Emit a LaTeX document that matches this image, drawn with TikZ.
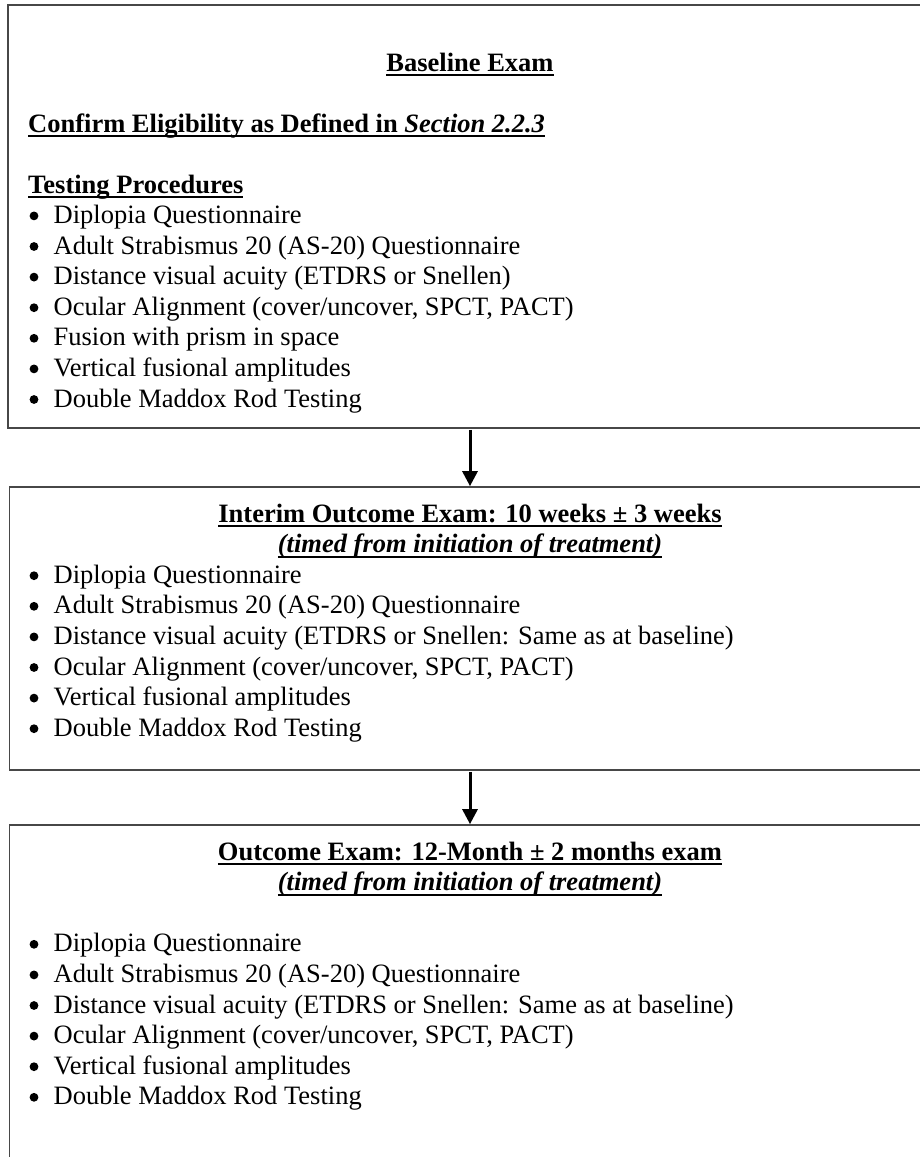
\documentclass[tikz,border=0pt]{standalone}
\usepackage{fontspec}
\setmainfont{Liberation Serif}
\usetikzlibrary{arrows.meta}
\newsavebox\ulbox
\newcommand\ulx[1]{\sbox\ulbox{#1}\rlap{\rule[-0.2em]{\wd\ulbox}{0.07em}}\usebox\ulbox}
\tikzset{
  boxline/.style={draw=black!72, line width=1.7pt, rectangle, inner sep=0pt},
  txt/.style={anchor=base west, inner sep=0pt, font=\fontsize{26.5}{30.6}\selectfont},
  hdr/.style={anchor=base, inner sep=0pt, font=\fontsize{26.5}{30.6}\selectfont\bfseries},
  hdrl/.style={anchor=base west, inner sep=0pt, font=\fontsize{26.5}{30.6}\selectfont\bfseries},
  sub/.style={anchor=base, inner sep=0pt, font=\fontsize{26.5}{30.6}\selectfont\bfseries\itshape},
  bul/.style={circle, fill=black, inner sep=0pt, minimum size=8.8pt},
  flow/.style={draw=black, line width=3pt, -{Triangle[width=15pt,length=15pt]}}
}
\begin{document}
\begin{tikzpicture}[x=1pt,y=-1pt]
\useasboundingbox (0,0) rectangle (920,1157);
\clip (0,0) rectangle (920,1157);
\fill[white] (0,0) rectangle (920,1157);

% boxes
\node[boxline, minimum width=924pt, minimum height=423pt] (box1) at (470,216.5) {};
\node[boxline, minimum width=921pt, minimum height=283pt] (box2) at (470,628.5) {};
\node[boxline, minimum width=921pt, minimum height=375pt] (box3) at (470,1012.5) {};

% box 1 text
\node[hdr] (h1) at (470,71) {\ulx{Baseline Exam}};
\node[hdrl] (h1b) at (28,132) {\ulx{Confirm Eligibility as Defined in \textit{Section 2.2.3}}};
\node[hdrl] (h1c) at (28,193) {\ulx{Testing Procedures}};
\foreach \t [count=\i] in {Diplopia Questionnaire, Adult Strabismus 20 (AS-20) Questionnaire, Distance visual acuity (ETDRS or Snellen), {Ocular Alignment (cover/uncover, SPCT, PACT)}, Fusion with prism in space, Vertical fusional amplitudes, Double Maddox Rod Testing}
{
  \node[bul] (adot\i) at (34,{223.4+30.6*(\i-1)-7.5}) {};
  \node[txt] (aitem\i) at (53.5,{223.4+30.6*(\i-1)}) {\t};
}

% box 2 text
\node[hdr] (h2) at (470,522) {\ulx{Interim Outcome Exam: 10 weeks ± 3 weeks}};
\node[sub] (h2b) at (470,552.6) {\ulx{(timed from initiation of treatment)}};
\foreach \t [count=\i] in {Diplopia Questionnaire, Adult Strabismus 20 (AS-20) Questionnaire, Distance visual acuity (ETDRS or Snellen: Same as at baseline), {Ocular Alignment (cover/uncover, SPCT, PACT)}, Vertical fusional amplitudes, Double Maddox Rod Testing}
{
  \node[bul] (bdot\i) at (34,{583.2+30.6*(\i-1)-7.5}) {};
  \node[txt] (bitem\i) at (53.5,{583.2+30.6*(\i-1)}) {\t};
}

% box 3 text
\node[hdr] (h3) at (470,860) {\ulx{Outcome Exam: 12-Month ± 2 months exam}};
\node[sub] (h3b) at (470,890.6) {\ulx{(timed from initiation of treatment)}};
\foreach \t [count=\i] in {Diplopia Questionnaire, Adult Strabismus 20 (AS-20) Questionnaire, Distance visual acuity (ETDRS or Snellen: Same as at baseline), {Ocular Alignment (cover/uncover, SPCT, PACT)}, Vertical fusional amplitudes, Double Maddox Rod Testing}
{
  \node[bul] (cdot\i) at (34,{951.8+30.6*(\i-1)-7.5}) {};
  \node[txt] (citem\i) at (53.5,{951.8+30.6*(\i-1)}) {\t};
}

% connectors
\draw[flow, shorten <=1pt] (box1.south) -- (box2.north);
\draw[flow, shorten <=1pt] (box2.south) -- (box3.north);
\end{tikzpicture}
\end{document}
